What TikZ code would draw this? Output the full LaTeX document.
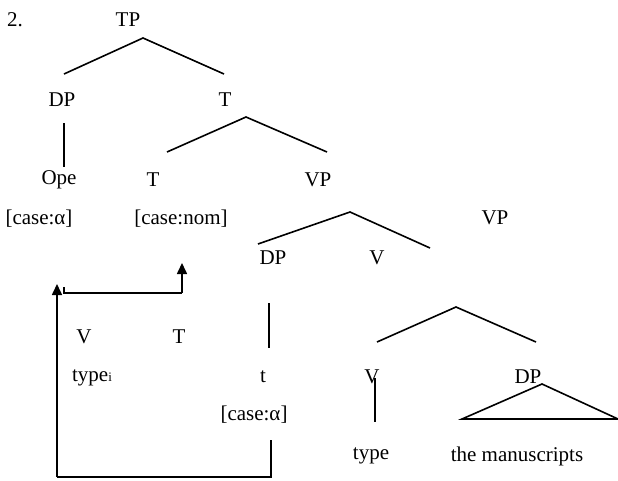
\documentclass[tikz,border=0pt]{standalone}
\usepackage{fontspec}
\setmainfont{Liberation Serif}
\usetikzlibrary{arrows.meta}
\begin{document}
\begin{tikzpicture}[x=1pt,y=-1pt,
  lbl/.style={inner sep=0pt,font=\fontsize{21}{24}\selectfont},
  br/.style={line width=1.6pt},
  arr/.style={line width=1.6pt,-{Triangle[length=11pt,width=10pt]}}]
\useasboundingbox (0,0) rectangle (618,480);
% labels
\node[lbl] (num) at (15,20) {2.};
\node[lbl] (tp) at (128,20) {TP};
\node[lbl] (dp1) at (62,100) {DP};
\node[lbl] (tbar) at (225,100) {T};
\node[lbl] (ope) at (59,180) {Ope};
\node[lbl] (t0) at (153,180) {T};
\node[lbl] (vp1) at (318,180) {VP};
\node[lbl] (caseA) at (39,219) {[case:α]};
\node[lbl] (caseN) at (181,219) {[case:nom]};
\node[lbl] (vp2) at (495,218) {VP};
\node[lbl] (dp2) at (273,258) {DP};
\node[lbl] (vbar) at (377,258) {V};
\node[lbl] (v1) at (84,337) {V};
\node[lbl] (t1) at (179,337) {T};
\node[lbl] (typei) at (92,378) {type{\fontsize{13}{13}\selectfont i}};
\node[lbl] (tr) at (263,377) {t};
\node[lbl] (caseT) at (254,415) {[case:α]};
\node[lbl] (v2) at (372,377) {V};
\node[lbl] (dp3) at (528,377) {DP};
\node[lbl] (type) at (371,456) {type};
\node[lbl] (ms) at (517,456) {the manuscripts};
% branch coordinates
\coordinate (a1) at (143,38); \coordinate (a1l) at (64,74); \coordinate (a1r) at (224,74);
\coordinate (d1t) at (64,123); \coordinate (d1b) at (64,167);
\coordinate (a2) at (246,117); \coordinate (a2l) at (167,152); \coordinate (a2r) at (327,152);
\coordinate (a3) at (350,212); \coordinate (a3l) at (258,244); \coordinate (a3r) at (430,248);
\coordinate (d2t) at (269,303); \coordinate (d2b) at (269,348);
\coordinate (a4) at (456,307); \coordinate (a4l) at (377,342); \coordinate (a4r) at (536,342);
\coordinate (v2t) at (375,378); \coordinate (v2b) at (375,422);
\coordinate (tri) at (542,384); \coordinate (tril) at (462,419); \coordinate (trir) at (618,419);
\draw[br] (a1l) -- (a1) -- (a1r);
\draw[br] (d1t) -- (d1b);
\draw[br] (a2l) -- (a2) -- (a2r);
\draw[br] (a3l) -- (a3) -- (a3r);
\draw[br] (d2t) -- (d2b);
\draw[br] (a4l) -- (a4) -- (a4r);
\draw[br] (v2t) -- (v2b);
\draw[br] (tril) -- (tri) -- (trir) -- cycle;
% arrows
\coordinate (s1) at (64,287); \coordinate (s2) at (64,293); \coordinate (s3) at (182,293); \coordinate (s4) at (182,263);
\draw[br] (s1) -- (s2) -- (s3);
\draw[arr] (s3) -- (s4);
\coordinate (b1) at (271,440); \coordinate (b2) at (271,477); \coordinate (b3) at (57,477); \coordinate (b4) at (57,284);
\draw[br] (b1) -- (b2) -- (b3);
\draw[arr] (b3) -- (b4);
\end{tikzpicture}
\end{document}
